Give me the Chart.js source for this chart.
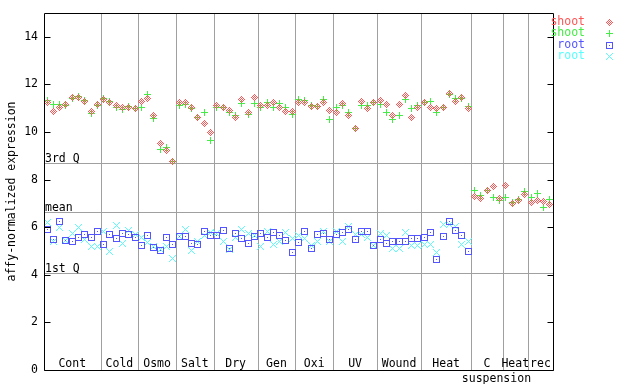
<!DOCTYPE html>
<html><head><meta charset="utf-8">
<script src="https://cdn.jsdelivr.net/npm/chart.js@4/dist/chart.umd.min.js"></script>
<style>html,body{margin:0;padding:0;background:#fff;}canvas{display:block;}</style>
</head><body>
<canvas id="c" width="640" height="384"></canvas>
<script>
// ---- data ----
const groupLabels = ['Cont','Cold','Osmo','Salt','Dry','Gen','Oxi','UV','Wound','Heat','C','Heat','rec'];
const groupSizes  = [9,6,6,6,7,6,6,7,7,8,5,4,4];
const subLabel = 'suspension';
const subLabelPos = 71.5;
const seriesLabels = ['shoot','shoot','root','root'];
const quartileLabels = ['3rd Q','mean','1st Q'];
const quartileValues = [8.69, 6.62, 4.07];

const shootRep1 = [11.22,10.88,11.05,11.15,11.43,11.47,11.27,10.88,11.16,
  11.35,11.25,11.10,11.01,11.03,10.98,
  11.30,11.40,10.68,9.50,9.21,8.75,
  11.22,11.22,11.01,10.59,10.35,10.00,
  11.13,11.01,10.91,10.59,11.36,10.80,11.47,
  11.10,11.13,11.26,11.01,10.87,10.88,
  11.26,11.26,11.09,11.08,11.22,10.90,
  10.84,11.19,10.71,10.15,11.27,10.97,11.22,
  11.33,11.15,10.68,11.15,11.53,10.63,11.01,
  11.25,11.05,10.97,11.05,11.61,11.30,11.43,10.97,
  7.31,7.21,7.53,7.69,7.22,
  7.77,7.00,7.14,7.39,
  7.04,7.14,7.10,6.97];
const shootRep2 = [11.33,11.15,11.16,11.11,11.40,11.50,11.32,10.77,11.12,
  11.41,11.29,11.02,10.94,11.06,10.99,
  11.02,11.57,10.56,9.25,9.36,8.78,
  11.12,11.15,10.97,10.61,10.84,9.66,
  11.01,11.05,10.84,10.68,11.18,10.75,11.18,
  11.01,11.22,11.05,11.19,11.05,10.75,
  11.36,11.32,11.10,11.08,11.36,10.51,
  11.01,11.13,10.80,10.15,11.13,11.10,11.22,
  11.15,10.84,10.54,10.68,11.35,10.97,11.10,
  11.25,11.30,10.80,11.05,11.58,11.39,11.40,11.08,
  7.56,7.34,7.56,7.25,7.13,
  7.25,7.04,7.17,7.52,
  7.25,7.42,6.82,7.18];
const rootRep1 = [5.90,5.48,6.25,5.45,5.42,5.57,5.69,5.57,5.80,
  5.28,5.69,5.52,5.74,5.69,5.57,
  5.24,5.66,5.13,5.03,5.55,5.27,
  5.62,5.62,5.31,5.27,5.83,5.66,
  5.66,5.86,5.10,5.74,5.52,5.31,5.62,
  5.74,5.57,5.78,5.66,5.44,4.93,
  5.36,5.83,5.10,5.69,5.74,5.50,
  5.69,5.78,5.90,5.50,5.83,5.83,5.24,
  5.48,5.31,5.38,5.42,5.42,5.52,5.52,
  5.57,5.78,4.64,5.62,6.25,5.86,5.66,4.99,
  null,null,null,null,null,
  null,null,null,null,
  null,null,null,null];
const rootRep2 = [6.18,5.38,5.99,5.45,5.74,5.97,5.48,5.17,5.17,
  5.83,4.99,6.09,5.31,5.85,5.69,
  5.57,5.36,5.17,5.06,5.21,4.68,
  5.62,5.92,5.03,5.42,5.66,5.78,
  5.74,5.42,5.06,5.57,5.90,5.74,5.66,
  5.20,5.80,5.27,5.38,5.78,5.52,
  5.66,5.52,5.24,5.42,5.83,5.38,
  5.83,5.42,6.01,5.69,5.69,5.57,5.24,
  5.74,5.66,5.10,5.10,5.78,5.24,5.24,
  5.28,5.28,4.93,6.12,6.12,6.04,5.28,5.41,
  null,null,null,null,null,
  null,null,null,null,
  null,null,null,null];

// ---- styling ----
const FONT = '"DejaVu Sans Mono", monospace';
const FS = 11.5;
const colors = ['#ff5555','#44ee44','#5555ff','#55ffff'];
const kinds = ['diamond','plus','square','cross'];

function makeMarker(kind, color){
  const h = 3, n = 2*h+1;
  const c = document.createElement('canvas'); c.width = n; c.height = n;
  const g = c.getContext('2d'); g.fillStyle = color;
  for(let dy=-h; dy<=h; dy++) for(let dx=-h; dx<=h; dx++){
    const ax=Math.abs(dx), ay=Math.abs(dy); let on=false;
    if(kind==='diamond') on = (ax+ay)<=h && ((ax+ay)%2===h%2);
    else if(kind==='plus') on = dx===0 || dy===0;
    else if(kind==='square') on = Math.max(ax,ay)===h || (dx===0&&dy===0);
    else if(kind==='cross') on = ax===ay;
    if(on) g.fillRect(dx+h, dy+h, 1, 1);
  }
  return c;
}
const markers = kinds.map((k,i)=>makeMarker(k, colors[i]));

function toPoints(arr){
  const out=[]; arr.forEach((v,i)=>{ if(v!==null) out.push({x:i,y:v}); }); return out;
}
const allSeries = [shootRep1, shootRep2, rootRep1, rootRep2];
const datasets = allSeries.map((arr,i)=>({
  label: seriesLabels[i], data: toPoints(arr),
  pointStyle: markers[i], pointRadius: 3, pointHoverRadius: 3,
  borderColor: colors[i], backgroundColor: colors[i], showLine:false
}));
const nSamples = groupSizes.reduce((a,b)=>a+b,0);

const gnuPlugin = {
  id:'gnu',
  beforeDatasetsDraw(chart){
    const {ctx, chartArea:a, scales:{x,y}} = chart;
    ctx.save();
    ctx.strokeStyle = '#a0a0a0'; ctx.lineWidth = 1;
    ctx.font = FS+'px '+FONT; ctx.fillStyle = '#000';
    quartileValues.forEach((v,i)=>{
      const py = Math.round(y.getPixelForValue(v))+0.5;
      ctx.beginPath(); ctx.moveTo(a.left,py); ctx.lineTo(a.right,py); ctx.stroke();
      ctx.textAlign='left'; ctx.textBaseline='alphabetic';
      ctx.fillText(quartileLabels[i], a.left+1, py-2);
    });
    let cum = 0;
    groupSizes.forEach((n,i)=>{
      const start = cum; cum += n;
      const cx = x.getPixelForValue((start+cum-1)/2);
      ctx.textAlign='center'; ctx.textBaseline='middle';
      ctx.fillText(groupLabels[i], cx, a.bottom-6);
      if(i < groupSizes.length-1){
        const px = Math.round(x.getPixelForValue(cum-0.5))+0.5;
        ctx.beginPath(); ctx.moveTo(px,a.top); ctx.lineTo(px,a.bottom); ctx.stroke();
      }
    });
    ctx.textAlign='center'; ctx.textBaseline='middle';
    ctx.fillText(subLabel, x.getPixelForValue(subLabelPos), a.bottom+9);
    ctx.restore();
    ctx.imageSmoothingEnabled = false;
  },
  afterDatasetsDraw(chart){
    const {ctx, chartArea:a, scales:{y}} = chart;
    ctx.imageSmoothingEnabled = true;
    ctx.save();
    ctx.strokeStyle='#000'; ctx.lineWidth=1;
    const L=Math.round(a.left)+0.5, R=Math.round(a.right)+0.5, T=Math.round(a.top)+0.5, B=Math.round(a.bottom)+0.5;
    ctx.beginPath(); ctx.rect(L,T,R-L,B-T); ctx.stroke();
    y.ticks.forEach(t=>{
      const py=Math.round(y.getPixelForValue(t.value))+0.5;
      ctx.beginPath(); ctx.moveTo(L,py); ctx.lineTo(L+6,py); ctx.moveTo(R,py); ctx.lineTo(R-6,py); ctx.stroke();
    });
    ctx.restore();
  },
  afterDraw(chart){
    const {ctx} = chart;
    ctx.save();
    ctx.font = FS+'px '+FONT; ctx.textAlign='right'; ctx.textBaseline='middle';
    const ys=[22,33,45,56];
    chart.data.datasets.forEach((d,i)=>{
      ctx.fillStyle = d.borderColor;
      ctx.fillText(d.label, 585, ys[i]);
      const m = d.pointStyle;
      ctx.drawImage(m, 609-Math.floor(m.width/2), ys[i]-Math.floor(m.height/2));
    });
    ctx.restore();
  }
};

new Chart(document.getElementById('c'), {
  type:'scatter',
  data:{datasets},
  options:{
    responsive:false, animation:false, events:[],
    layout:{padding:{left:0,top:13,right:87,bottom:14}},
    plugins:{legend:{display:false}, tooltip:{enabled:false}},
    scales:{
      x:{type:'linear', display:false, min:-0.5, max:nSamples-0.5},
      y:{type:'linear', min:0, max:15,
        afterFit(s){ s.width = 44; },
        grid:{display:false, drawTicks:false},
        border:{display:false},
        ticks:{stepSize:2, includeBounds:false, color:'#000', padding:6,
               font:{family:FONT, size:FS}},
        title:{display:true, text:'affy-normalized expression', color:'#000',
               font:{family:FONT, size:FS}, padding:{top:5,bottom:0}}
      }
    }
  },
  plugins:[gnuPlugin]
});
</script>
</body></html>
